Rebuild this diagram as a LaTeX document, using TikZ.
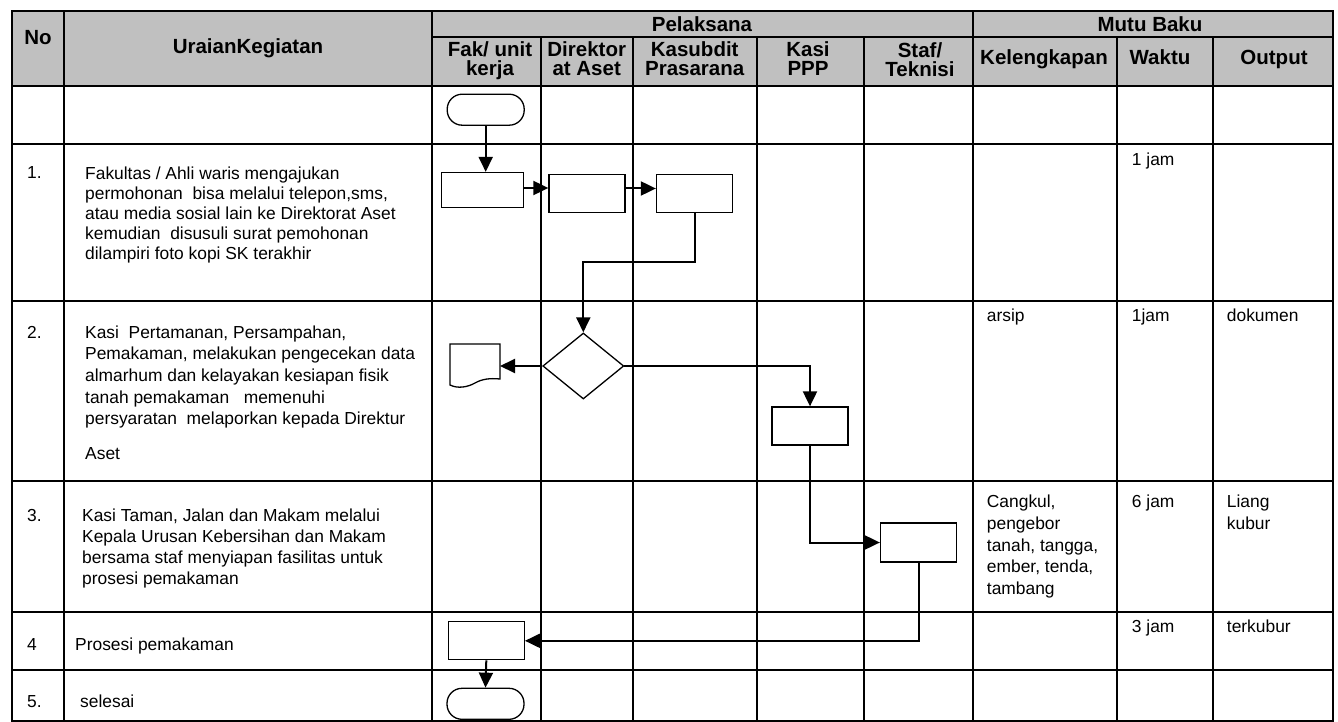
\documentclass[tikz,border=0pt]{standalone}
\usepackage{fontspec}
\setmainfont{Liberation Sans}
\usetikzlibrary{positioning,arrows.meta,shapes.geometric}
\definecolor{headgray}{HTML}{C0C0C0}

\begin{document}
\begin{tikzpicture}[x=1pt,y=-1pt,
  grid/.style={line width=2pt},
  box/.style={draw,line width=1.3pt,minimum width=76pt,minimum height=38pt,inner sep=0pt},
  term/.style={box,rounded corners=15pt,minimum width=77pt,minimum height=31pt},
  flow/.style={line width=2pt,-{Triangle[length=15pt,width=14pt]}},
  head/.style={font=\bfseries\fontsize{20.5}{19}\selectfont,align=center,anchor=base,inner sep=0pt},
  txt/.style={font=\fontsize{17.4}{20}\selectfont,align=left,anchor=base west,inner sep=0pt}]
\useasboundingbox (0,0) rectangle (1338,722);
% tabel
\fill[headgray] (12.3,11) rectangle (1332.7,86);
\draw[grid] (432,37) -- (1332.7,37);
\foreach \y in {86,144.5,301,481,612,669.5}
  \draw[grid] (12.3,\y) -- (1332.7,\y);
\foreach \x in {64.3,432,972.7}
  \draw[grid] (\x,11) -- (\x,721);
\foreach \x in {540.7,632.7,756.7,864,1117,1212.7}
  \draw[grid] (\x,37) -- (\x,721);
\draw[grid] (12.3,11) rectangle (1332.7,721);
% kepala tabel (base = baris terakhir)
\node[head] (hno) at (38,45) {No};
\node[head] (hurai) at (248,54) {UraianKegiatan};
\node[head] (hpel) at (702,32) {Pelaksana};
\node[head] (hmutu) at (1150,32) {Mutu Baku};
\node[head] (hfak) at (490,76) {Fak/ unit\\kerja};
\node[head] (hdir) at (586.7,76) {Direktor\\at Aset};
\node[head] (hkas) at (694.7,76) {Kasubdit\\Prasarana};
\node[head] (hkasi) at (808,76) {Kasi\\PPP};
\node[head] (hstaf) at (920,77) {Staf/\\Teknisi};
\node[head] (hleng) at (1044,65) {Kelengkapan};
\node[head] (hwaktu) at (1160,65) {Waktu};
\node[head] (hout) at (1274,65) {Output};
% uraian kegiatan
\node[txt] (no1) at (27,179) {1.};
\node[txt] (urai1) at (85,259) {Fakultas / Ahli waris mengajukan\\permohonan\ \ bisa melalui telepon,sms,\\atau media sosial lain ke Direktorat Aset\\kemudian\ \ disusuli surat pemohonan\\dilampiri foto kopi SK terakhir};
\node[txt] (no2) at (27,338) {2.};
\node[txt,font=\fontsize{17.4}{21.7}\selectfont] (urai2) at (85,459) {Kasi\ \ Pertamanan, Persampahan,\\Pemakaman, melakukan pengecekan data\\almarhum dan kelayakan kesiapan fisik\\tanah pemakaman\ \ \ memenuhi\\persyaratan\ \ melaporkan kepada Direktur\\[12.5pt]Aset};
\node[txt] (no3) at (27,521) {3.};
\node[txt,font=\fontsize{17.4}{21}\selectfont] (urai3) at (82,584) {Kasi Taman, Jalan dan Makam melalui\\Kepala Urusan Kebersihan dan Makam\\bersama staf menyiapan fasilitas untuk\\prosesi pemakaman};
\node[txt] (no4) at (27,650) {4};
\node[txt] (urai4) at (75,650) {Prosesi pemakaman};
\node[txt] (no5) at (27,707.5) {5.};
\node[txt] (urai5) at (80,707.5) {selesai};
% mutu baku
\node[txt] (waktu1) at (1131.7,166) {1 jam};
\node[txt] (leng2) at (986.7,321) {arsip};
\node[txt] (waktu2) at (1131.7,321) {1jam};
\node[txt] (out2) at (1226.7,321) {dokumen};
\node[txt,font=\fontsize{17.4}{21.7}\selectfont] (leng3) at (986.7,594.5) {Cangkul,\\pengebor\\tanah, tangga,\\ember, tenda,\\tambang};
\node[txt] (waktu3) at (1131.7,507.7) {6 jam};
\node[txt,font=\fontsize{17.4}{21.7}\selectfont] (out3) at (1226.7,529.4) {Liang\\kubur};
\node[txt] (waktu4) at (1131.7,632.7) {3 jam};
\node[txt] (out4) at (1226.7,632.7) {terkubur};
% bagan alir
\node[term] (mulai) at (485.7,109.7) {};
\node[box,minimum width=82pt,minimum height=35pt] (fak1) at (482.5,190) {};
\node[box] (dir1) at (587,193.5) {};
\node[box] (kas1) at (694.5,193.5) {};
\node[diamond,draw,line width=1.3pt,minimum width=81pt,minimum height=66pt,inner sep=0pt] (cek) at (583.3,366) {};
\draw[line width=1.3pt] (450,344) -- (500,344) -- (500,379) .. controls (490,378) and (482,379) .. (475,383) .. controls (468,387) and (458,389) .. (450,385) -- cycle;
\coordinate (arsip) at (500,366);
\node[box] (kasi2) at (810,426) {};
\node[box,minimum height=39pt] (staf3) at (918.5,542.5) {};
\node[box] (fak4) at (486.3,640.8) {};
\node[term] (selesai) at (485.5,703.8) {};
\draw[flow] (mulai.south) -- (mulai.south |- fak1.north);
\draw[flow] ([yshift=2pt]fak1.east) -- ([yshift=2pt]fak1.east -| dir1.west);
\draw[flow] ([yshift=5pt]dir1.east) -- ([yshift=5pt]dir1.east -| kas1.west);
\draw[flow] (kas1.south) -- ++(0,49) -| (cek.north);
\draw[flow] (cek.west) -- (arsip);
\draw[flow] (cek.east) -| (kasi2.north);
\draw[flow] (kasi2.south) |- (staf3.west);
\draw[flow] (staf3.south) |- (fak4.east);
\draw[flow] (fak4.south) -- (selesai.north);
\end{tikzpicture}
\end{document}
